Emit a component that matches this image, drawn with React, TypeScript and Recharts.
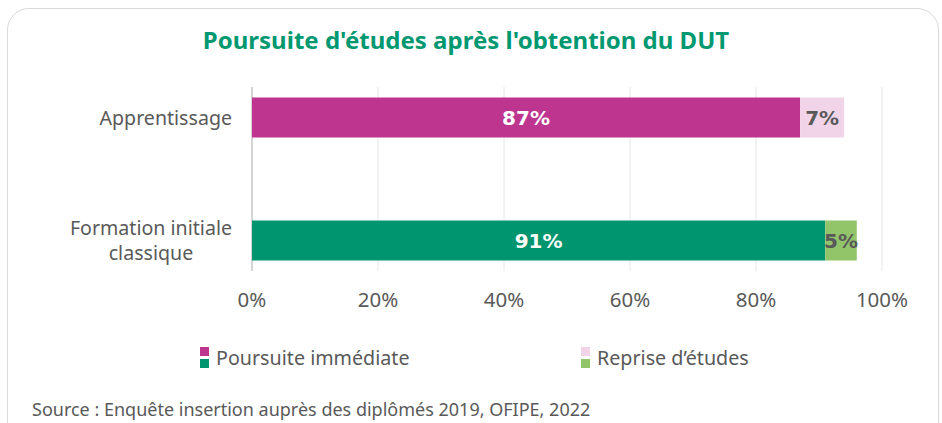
import React from 'react';
import { BarChart, Bar, XAxis, YAxis, CartesianGrid, Cell, LabelList } from 'recharts';

const categories = ['Apprentissage', 'Formation initiale classique'];
const categoryLines = [['Apprentissage'], ['Formation initiale', 'classique']];
const immediate = [87, 91];
const reprise = [7, 5];
const xTicks = [0, 20, 40, 60, 80, 100];

const immediateColors = ['#BE3590', '#00956E'];
const repriseColors = ['#F2D4E9', '#92C46A'];

const data = categories.map((name, i) => ({
  name,
  immediate: immediate[i],
  reprise: reprise[i],
}));

const FONT = '"Noto Sans", sans-serif';
const GREY = '#595959';

let canvas: HTMLCanvasElement | null = null;
const measure = (text: string, font: string) => {
  if (!canvas) canvas = document.createElement('canvas');
  const ctx = canvas.getContext('2d');
  if (!ctx) return text.length * 9;
  ctx.font = font;
  return ctx.measureText(text).width;
};

const CategoryTick = (props: any) => {
  const { x, y, payload } = props;
  const lines = categoryLines[payload.index] || [String(payload.value)];
  const widths = lines.map((l) => measure(l, `19.6px "Noto Sans"`));
  const maxW = Math.max(...widths);
  const cx = x - maxW / 2;
  const lh = 25;
  const start = y - ((lines.length - 1) * lh) / 2;
  return (
    <g>
      {lines.map((l, i) => (
        <text
          key={i}
          x={cx}
          y={start + i * lh}
          textAnchor="middle"
          dominantBaseline="central"
          fill={GREY}
          fontSize={19.6}
          fontFamily={FONT}
        >
          {l}
        </text>
      ))}
    </g>
  );
};

const PercentTick = (props: any) => {
  const { x, y, payload } = props;
  return (
    <text x={x} y={y} dy={-3} textAnchor="middle" dominantBaseline="central" fill={GREY} fontSize={20.5} fontFamily={FONT}>
      {`${payload.value}%`}
    </text>
  );
};

const GridLine = (props: any) => {
  const first = props.index === 0;
  return (
    <line
      x1={props.x1}
      y1={props.y1}
      x2={props.x2}
      y2={props.y2}
      stroke={first ? '#d4d4d4' : '#e6e6e6'}
      strokeWidth={first ? 2 : 1}
    />
  );
};

const Square = ({ color }: { color: string }) => (
  <div style={{ width: 9, height: 9, background: color, marginBottom: 3 }} />
);

const LegendItem = ({ colors, label, left }: { colors: string[]; label: string; left: number }) => (
  <div style={{ position: 'absolute', left, top: 347, display: 'flex', alignItems: 'center' }}>
    <div>
      {colors.map((c) => (
        <Square key={c} color={c} />
      ))}
    </div>
    <span style={{ marginLeft: 7, fontSize: 19.7, color: GREY, fontFamily: FONT, lineHeight: '21px', marginTop: -3 }}>
      {label}
    </span>
  </div>
);

export default function App() {
  return (
    <div
      style={{
        position: 'absolute',
        left: 0,
        top: 0,
        width: 942,
        height: 423,
        overflow: 'hidden',
        background: '#fff',
        fontFamily: FONT,
      }}
    >
      <div
        style={{
          position: 'absolute',
          left: 7,
          top: 8,
          width: 932,
          height: 440,
          border: '1px solid #d9d9d9',
          borderRadius: 22,
          boxSizing: 'border-box',
        }}
      />
      <div
        style={{
          position: 'absolute',
          left: 0,
          width: 932,
          top: 24,
          textAlign: 'center',
          fontSize: 24,
          fontWeight: 700,
          color: '#009870',
          fontFamily: FONT,
          lineHeight: '32px',
        }}
      >
        Poursuite d'études après l'obtention du DUT
      </div>
      <div style={{ position: 'absolute', left: 0, top: 0 }}>
        <BarChart
          width={942}
          height={423}
          data={data}
          layout="vertical"
          margin={{ top: 55.5, right: 60, bottom: 91.5, left: 0 }}
          barSize={40}
        >
          <CartesianGrid horizontal={false} y={87} height={184} vertical={GridLine} />
          <XAxis
            type="number"
            domain={[0, 100]}
            ticks={xTicks}
            axisLine={false}
            tickLine={false}
            tickSize={0}
            tickMargin={0}
            height={30}
            tick={PercentTick}
            interval={0}
          />
          <YAxis
            type="category"
            dataKey="name"
            width={252}
            axisLine={false}
            tickLine={false}
            tickSize={0}
            tickMargin={20}
            tick={CategoryTick}
            interval={0}
          />
          <Bar dataKey="immediate" stackId="a" isAnimationActive={false}>
            {data.map((_, i) => (
              <Cell key={i} fill={immediateColors[i]} />
            ))}
            <LabelList
              dataKey="immediate"
              position="center"
              formatter={(v: any) => `${v}%`}
              fill="#ffffff"
              fontSize={20}
              fontWeight={700}
              fontFamily='"DejaVu Sans", sans-serif'
            />
          </Bar>
          <Bar dataKey="reprise" stackId="a" isAnimationActive={false}>
            {data.map((_, i) => (
              <Cell key={i} fill={repriseColors[i]} />
            ))}
            <LabelList
              dataKey="reprise"
              position="center"
              formatter={(v: any) => `${v}%`}
              fill={GREY}
              fontSize={20}
              fontWeight={700}
              fontFamily='"DejaVu Sans", sans-serif'
            />
          </Bar>
        </BarChart>
      </div>
      <LegendItem colors={[immediateColors[0], immediateColors[1]]} label="Poursuite immédiate" left={200} />
      <LegendItem colors={[repriseColors[0], repriseColors[1]]} label="Reprise d’études" left={581} />
      <div
        style={{
          position: 'absolute',
          left: 32,
          top: 398,
          fontSize: 18,
          color: GREY,
          fontFamily: FONT,
          lineHeight: '22px',
        }}
      >
        Source : Enquête insertion auprès des diplômés 2019, OFIPE, 2022
      </div>
    </div>
  );
}
